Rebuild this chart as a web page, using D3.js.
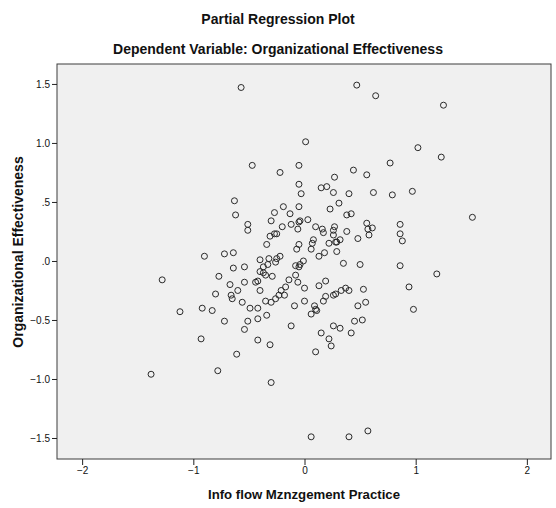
<!DOCTYPE html>
<html>
<head>
<meta charset="utf-8">
<script src="https://cdn.jsdelivr.net/npm/d3@7"></script>
<style>
  body { margin: 0; background: #fff; }
  text { font-family: "Liberation Sans", Arial, sans-serif; fill: #111; }
</style>
</head>
<body>
<svg id="chart" width="556" height="508"></svg>
<script>
// partial regression residuals
const xVals = [
  -0.57, 0.47, 0.64, 0.01, -0.47, -0.05, -0.22, 0.77, 0.44, 0.56, 0.27, -0.05, 0.15, 0.20, -0.03, 0.26, 0.40, 0.62,
  -0.63, 0.31, 0.23, -0.19, -0.05, -0.62, -0.27, -0.13, 0.38, 0.42, -0.30, -0.04, 0.03, -0.05, 0.56, -0.51, -0.51,
  -0.12, -0.20, -0.06, 0.10, 0.16, 0.17, 0.27, 0.26, 0.57, 0.61, 0.58, 0.38, 0.48, -0.31, -0.27, -0.25, 0.26, 0.08,
  0.07, 0.06, 0.22, 0.28, 0.29, 0.32, 0.29, -0.34, -0.05, -0.07, 0.13, 0.18, -0.72, -0.64, -0.90,
  1.25, 1.02, 1.23, 0.79, 0.97, 1.51, 0.86, 0.86, 0.88,
  -1.28, -0.77, -0.80, -1.12, -0.92, -0.83, -0.93, -1.38, -0.78,
  -0.40, -0.32, -0.25, -0.22, -0.26, -0.33, -0.64, -0.54, -0.37, -0.40, -0.37, -0.35, -0.29, -0.44, -0.42, -0.54,
  -0.67, -0.60, -0.40, -0.66, -0.65, -0.56, -0.49, -0.42, -0.35, -0.30, -0.26, -0.23, -0.21, -0.18, -0.17, -0.14,
  -0.08, -0.08, -0.05, -0.04, -0.01, -0.06, 0.00, 0.13, 0.19, 0.00, -0.09, 0.09, 0.10, 0.06, 0.11, 0.17, 0.19, 0.26,
  0.28, 0.33, 0.37, 0.40, 0.35, 0.50, 0.53, 0.48, 0.55, 0.45, 0.52, 0.42, 0.26, 0.32, 0.15, 0.22, 0.24, 0.10, -0.12,
  -0.34, -0.42, -0.51, -0.54, -0.72, -0.42, -0.31, -0.61, -0.30, 0.06, 0.40, 0.57,
  0.86, 1.19, 0.94, 0.98
];
const yVals = [
  1.47, 1.49, 1.40, 1.01, 0.81, 0.81, 0.75, 0.83, 0.77, 0.73, 0.71, 0.65, 0.62, 0.63, 0.57, 0.58, 0.57, 0.58,
  0.51, 0.49, 0.44, 0.46, 0.46, 0.39, 0.41, 0.40, 0.39, 0.40, 0.34, 0.34, 0.35, 0.33, 0.32, 0.31, 0.26,
  0.31, 0.29, 0.27, 0.29, 0.27, 0.24, 0.29, 0.26, 0.27, 0.28, 0.22, 0.25, 0.19, 0.21, 0.23, 0.23, 0.22, 0.18,
  0.15, 0.10, 0.15, 0.16, 0.16, 0.18, 0.08, 0.14, 0.14, 0.10, 0.04, 0.07, 0.06, 0.07, 0.04,
  1.32, 0.96, 0.88, 0.56, 0.59, 0.37, 0.31, 0.23, 0.17,
  -0.16, -0.13, -0.28, -0.43, -0.40, -0.42, -0.66, -0.96, -0.93,
  0.01, 0.02, 0.02, 0.04, -0.01, -0.03, -0.06, -0.05, -0.05, -0.09, -0.10, -0.12, -0.13, -0.18, -0.17, -0.18,
  -0.20, -0.25, -0.25, -0.29, -0.32, -0.35, -0.40, -0.40, -0.34, -0.35, -0.32, -0.29, -0.25, -0.29, -0.22, -0.16,
  -0.12, -0.04, -0.05, -0.03, 0.00, -0.18, -0.23, -0.21, -0.17, -0.34, -0.38, -0.38, -0.41, -0.45, -0.42, -0.34, -0.30, -0.29,
  -0.28, -0.25, -0.23, -0.25, -0.02, -0.03, -0.24, -0.38, -0.35, -0.51, -0.50, -0.61, -0.55, -0.57, -0.61, -0.66, -0.72, -0.77, -0.55,
  -0.46, -0.49, -0.51, -0.58, -0.51, -0.67, -0.71, -0.79, -1.03, -1.49, -1.49, -1.44,
  -0.04, -0.11, -0.22, -0.41
];
const xTicks = [-2, -1, 0, 1, 2];
const yTicks = [-1.5, -1.0, -0.5, 0, 0.5, 1.0, 1.5];

const title = 'Partial Regression Plot';
const subtitle = 'Dependent Variable: Organizational Effectiveness';
const xLabel = 'Info flow Mznzgement Practice';
const yLabel = 'Organizational Effectiveness';

const width = 556;
const height = 508;
const margin = { top: 64, right: 5, bottom: 49, left: 57 };
const innerWidth = width - margin.left - margin.right;
const innerHeight = height - margin.top - margin.bottom;

const points = xVals.map((x, i) => ({ x, y: yVals[i] }));

const xScale = d3.scaleLinear()
  .domain([-2.226, 2.217])
  .range([0, innerWidth]);
const yScale = d3.scaleLinear()
  .domain([-1.678, 1.669])
  .range([innerHeight, 0]);

// SPSS style: drop the leading zero (".5", "-.5", ".0")
const spssFormat = v => d3.format('.1f')(v).replace(/^(-?)0\./, '$1.');

const svg = d3.select('#chart');

svg.append('text')
  .attr('x', width / 2)
  .attr('y', 24)
  .attr('text-anchor', 'middle')
  .style('font-size', '14px')
  .style('font-weight', 'bold')
  .text(title);

svg.append('text')
  .attr('x', width / 2)
  .attr('y', 54)
  .attr('text-anchor', 'middle')
  .style('font-size', '14px')
  .style('font-weight', 'bold')
  .text(subtitle);

const g = svg.append('g')
  .attr('transform', `translate(${margin.left},${margin.top})`);

g.append('rect')
  .attr('width', innerWidth)
  .attr('height', innerHeight)
  .attr('fill', '#f0f0f0')
  .attr('stroke', '#3c3c3c')
  .attr('stroke-width', 1);

const yAxis = g.append('g')
  .call(d3.axisLeft(yScale).tickValues(yTicks).tickFormat(spssFormat).tickSize(5).tickPadding(2));
const xAxis = g.append('g')
  .attr('transform', `translate(0,${innerHeight})`)
  .call(d3.axisBottom(xScale).tickValues(xTicks).tickFormat(d3.format('d')).tickSize(6).tickPadding(2));

[xAxis, yAxis].forEach(a => {
  a.select('.domain').remove();
  a.selectAll('.tick line').attr('stroke', '#222');
  a.selectAll('.tick text')
    .style('font-family', '"Liberation Sans", Arial, sans-serif')
    .style('font-size', '10px')
    .attr('fill', '#222');
});

g.selectAll('.point')
  .data(points)
  .enter().append('circle')
    .attr('class', 'point')
    .attr('cx', d => xScale(d.x))
    .attr('cy', d => yScale(d.y))
    .attr('r', 3)
    .attr('fill', 'none')
    .attr('stroke', '#2a2a2a')
    .attr('stroke-width', 1);

svg.append('text')
  .attr('x', margin.left + innerWidth / 2)
  .attr('y', 499)
  .attr('text-anchor', 'middle')
  .style('font-size', '13.2px')
  .style('font-weight', 'bold')
  .text(xLabel);

svg.append('text')
  .attr('transform', `translate(23,252) rotate(-90)`)
  .attr('text-anchor', 'middle')
  .style('font-size', '14px')
  .style('font-weight', 'bold')
  .text(yLabel);
</script>
</body>
</html>
